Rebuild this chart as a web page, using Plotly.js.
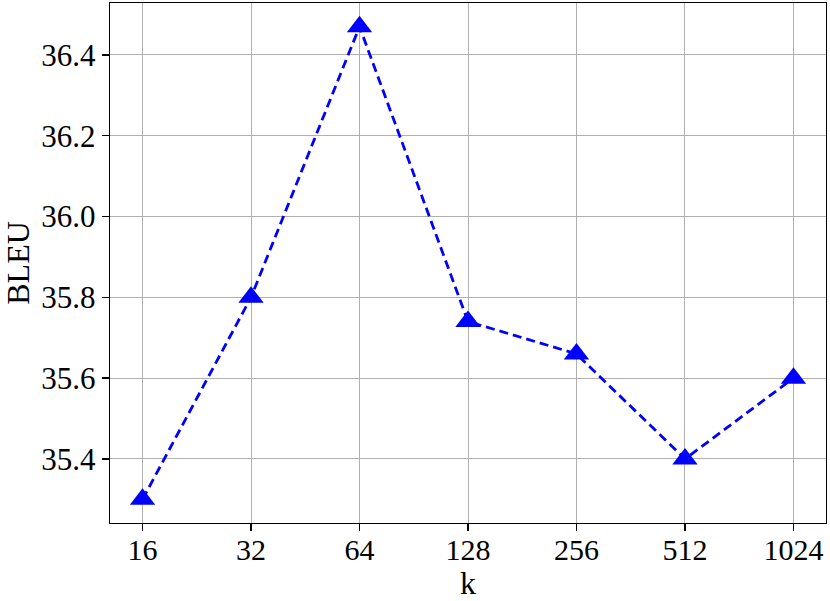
<!DOCTYPE html>
<html>
<head>
<meta charset="utf-8">
<script src="https://cdn.plot.ly/plotly-3.0.1.min.js"></script>
<style>html,body{margin:0;padding:0;background:#fff;}#chart{width:830px;height:601px;}</style>
</head>
<body>
<div id="chart"></div>
<script>
const kLabels = ["16", "32", "64", "128", "256", "512", "1024"];
const bleu = [35.30, 35.80, 36.47, 35.74, 35.66, 35.40, 35.60];
const yTicks = [35.4, 35.6, 35.8, 36.0, 36.2, 36.4];

const trace = {
  x: kLabels.map((_, i) => i),
  y: bleu,
  type: "scatter",
  mode: "lines+markers",
  line: {color: "#0000ff", width: 2.8, dash: "9px,5px"},
  marker: {symbol: "triangle-up", size: 22, color: "#0000ff"},
  hoverinfo: "x+y"
};

const fontFam = "'Liberation Serif', 'Times New Roman', serif";
const layout = {
  width: 830, height: 601,
  margin: {l: 110, r: 4, t: 3, b: 78},
  paper_bgcolor: "#fff", plot_bgcolor: "#fff",
  showlegend: false,
  font: {family: fontFam, size: 31, color: "#000"},
  xaxis: {
    range: [-0.3, 6.3],
    tickmode: "array",
    tickvals: kLabels.map((_, i) => i),
    ticktext: kLabels,
    showgrid: true, gridcolor: "#b0b0b0", gridwidth: 1,
    zeroline: false,
    showline: true, linecolor: "#000", linewidth: 1.3, mirror: true,
    ticks: "outside", ticklen: 7, tickwidth: 1.3, tickcolor: "#000",
    ticklabelstandoff: -7,
    tickfont: {family: fontFam, size: 30},
    title: {text: "k", font: {family: fontFam, size: 32}, standoff: 7}
  },
  yaxis: {
    range: [35.2415, 36.5285],
    tickmode: "array",
    tickvals: yTicks,
    ticktext: yTicks.map(v => v.toFixed(1)),
    showgrid: true, gridcolor: "#b0b0b0", gridwidth: 1,
    zeroline: false,
    showline: true, linecolor: "#000", linewidth: 1.3, mirror: true,
    ticks: "outside", ticklen: 7, tickwidth: 1.3, tickcolor: "#000",
    tickfont: {family: fontFam, size: 31},
    title: {text: "BLEU", font: {family: fontFam, size: 32}, standoff: 20}
  }
};

Plotly.newPlot("chart", [trace], layout, {displayModeBar: false, staticPlot: true});
</script>
</body>
</html>
